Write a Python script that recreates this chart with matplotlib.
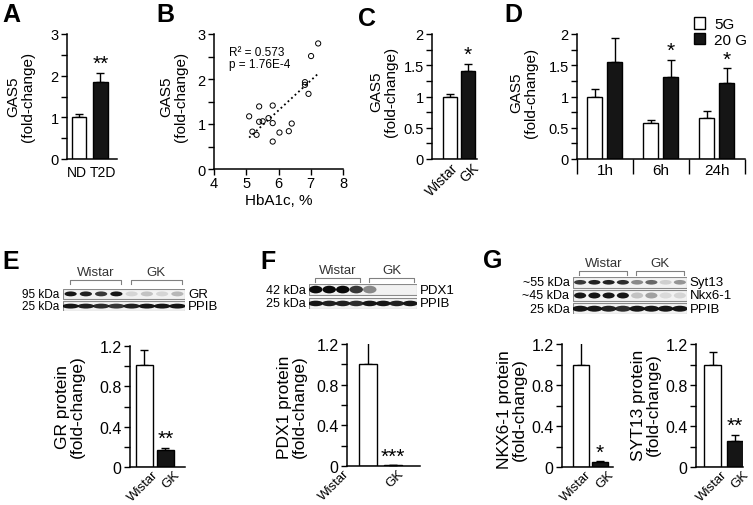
import numpy as np
import matplotlib
matplotlib.use("Agg")
import matplotlib.pyplot as plt
from matplotlib.patches import Ellipse, Rectangle, Patch
from matplotlib.ticker import MultipleLocator, FormatStrFormatter

plt.rcParams['font.family'] = ['Liberation Sans', 'DejaVu Sans']

############## Data ##################
# A - human islets
a_groups = ['ND', 'T2D']
a_mean = [1.02, 1.85]
a_err = [0.05, 0.22]

# B - GAS5 vs HbA1c
b_hba1c = [5.09, 5.19, 5.32, 5.40, 5.40, 5.51, 5.69, 5.82, 5.82, 5.82,
           6.03, 6.32, 6.41, 6.82, 6.82, 6.93, 7.01, 7.23]
b_gas5 = [1.17, 0.83, 0.76, 1.39, 1.05, 1.06, 1.13, 1.41, 1.02, 0.61,
          0.81, 0.84, 1.01, 1.93, 1.87, 1.67, 2.51, 2.79]

# C - rat islets
rat_groups = ['Wistar', 'GK']
c_mean = [1.0, 1.41]
c_err = [0.04, 0.11]

# D - glucose time course
d_times = ['1h', '6h', '24h']
d_5g = [1.0, 0.57, 0.66]
d_5g_err = [0.12, 0.05, 0.11]
d_20g = [1.55, 1.31, 1.22]
d_20g_err = [0.39, 0.28, 0.23]

# E-G - protein quantification
e_mean = [1.01, 0.17]
e_err = [0.15, 0.02]
f_mean = [1.0, 0.006]
f_err = [0.22, 0.0]
nkx_mean = [1.0, 0.05]
nkx_err = [0.30, 0.005]
syt_mean = [1.0, 0.25]
syt_err = [0.12, 0.06]

# western blot band intensities per lane (Wistar lanes 0-3, GK lanes 4-7)
gr_bands = [0.95, 0.9, 0.8, 0.95, 0.12, 0.2, 0.12, 0.25]
ppib_e = [0.95, 0.9, 0.85, 0.8, 0.9, 0.95, 0.95, 0.95]
pdx1_bands = [1.0, 1.0, 1.0, 0.8, 0.45, 0.0, 0.0, 0.0]
ppib_f = [0.95, 0.9, 0.9, 0.85, 0.95, 0.95, 0.9, 0.95]
syt13_bands = [0.8, 0.9, 0.9, 0.85, 0.45, 0.6, 0.15, 0.4]
nkx_bands = [0.95, 0.95, 0.95, 0.95, 0.2, 0.35, 0.1, 0.12]
ppib_g = [0.95, 0.95, 0.9, 0.85, 0.95, 0.95, 0.95, 0.95]
blot_groups = [('Wistar', 0, 3), ('GK', 4, 7)]

############## Helpers ##################
W, H = 753, 506
fig = plt.figure(figsize=(W / 100, H / 100), dpi=100)
BLACK = '#151515'


def add_ax(x0, y0, x1, y1):
    return fig.add_axes([x0 / W, 1 - y1 / H, (x1 - x0) / W, (y1 - y0) / H])


def style(ax, ymax, major, minor, fs, fmt='%g'):
    for s in ['top', 'right']:
        ax.spines[s].set_visible(False)
    for s in ['left', 'bottom']:
        ax.spines[s].set_linewidth(1.1)
    ax.set_ylim(0, ymax)
    ax.yaxis.set_major_locator(MultipleLocator(major))
    ax.yaxis.set_minor_locator(MultipleLocator(minor))
    ax.yaxis.set_major_formatter(FormatStrFormatter(fmt))
    ax.tick_params(axis='y', which='both', direction='out', length=4,
                   width=1, labelsize=fs, pad=2)
    ax.patch.set_alpha(0)


def bars(ax, x, means, errs, width, colors):
    ax.bar(x, means, width, color=colors, edgecolor='black', linewidth=1, zorder=2)
    ax.errorbar(x, means, yerr=[np.zeros(len(errs)), errs], fmt='none',
                ecolor='black', elinewidth=1, capsize=3, capthick=1, zorder=1)


def stars(ax, x, top, s, fs=15):
    ax.text(x, top, s, ha='center', va='bottom', fontsize=fs)


def rot_labels(ax, xs, labels, fs):
    ax.set_xticks([])
    for x, lab in zip(xs, labels):
        ax.text(x, -0.01, lab, transform=ax.get_xaxis_transform(), rotation=45,
                ha='right', va='top', rotation_mode='anchor', fontsize=fs,
                clip_on=False)


def ylab(x, y, text, fs):
    fig.text(x / W, 1 - y / H, text, rotation=90, ha='center', va='center',
             fontsize=fs, multialignment='center', linespacing=1.05)


def letter(x, y, s):
    fig.text(x / W, 1 - y / H, s, ha='left', va='top', fontsize=18, weight='bold')


def blot(box, rows, left, right, fs_left, fs_right, br_gap):
    x0, y0, x1, y1 = box
    ax = add_ax(x0, y0, x1, y1)
    n = len(rows[0][0])
    nr = len(rows)
    ax.set_xlim(-0.5, n - 0.5)
    ax.set_ylim(nr - 0.2, 0)
    ax.axis('off')
    unit = (y1 - y0) / (nr - 0.2)
    for r, (bands, bh, bw) in enumerate(rows):
        ax.add_patch(Rectangle((-0.5, r), n, 0.8, fc='#f2f2f2', ec='#8a8a8a', lw=0.8))
        for i, v in enumerate(bands):
            if v > 0:
                ax.add_patch(Ellipse((i, r + 0.4), bw, bh, fc='#0a0a0a', alpha=v, lw=0))
        ax.text(-0.75, r + 0.4, left[r], ha='right', va='center', fontsize=fs_left)
        ax.text(n - 0.3, r + 0.4, right[r], ha='left', va='center', fontsize=fs_right)
    yt = -br_gap / unit
    yl = yt + 4 / unit
    for name, i, j in blot_groups:
        ax.plot([i - 0.05, i - 0.05, j + 0.3, j + 0.3], [yl, yt, yt, yl],
                color='#808080', lw=0.8, clip_on=False)
        ax.text((i + j + 0.25) / 2, yt - 2 / unit, name, ha='center', va='bottom',
                fontsize=9.5, color='#333333')


############## A ##################
ax = add_ax(67, 35, 117, 160)
style(ax, 3, 1, 0.5, 10.5)
x = np.arange(2)
ax.set_xlim(-0.56, 1.77)
bars(ax, x, a_mean, a_err, 0.67, ['white', BLACK])
ax.set_xticks([-0.08, 1.1])
ax.set_xticklabels(a_groups, fontsize=10)
ax.tick_params(axis='x', length=0, pad=4)
stars(ax, 1, a_mean[1] + a_err[1], '**')
ylab(21, 97, 'GAS5\n(fold-change)', 11)
letter(2, 3, 'A')

############## B ##################
ax = add_ax(214, 35, 343, 170)
style(ax, 3, 1, 0.5, 10.5)
ax.set_xlim(4, 8)
ax.xaxis.set_major_locator(MultipleLocator(1))
ax.tick_params(axis='x', direction='out', length=4, width=1, labelsize=10.5, pad=1)
ax.scatter(b_hba1c, b_gas5, s=14, facecolors='none', edgecolors='black',
           linewidths=0.7, zorder=3, clip_on=False)
k, b0 = np.polyfit(b_hba1c, b_gas5, 1)
xf = np.array([min(b_hba1c), max(b_hba1c)])
ax.plot(xf, k * xf + b0, ':', color='black', lw=1.3)
ax.text(0.115, 0.91, 'R² = 0.573\np = 1.76E-4', transform=ax.transAxes,
        ha='left', va='top', fontsize=8.5, linespacing=1.0)
ax.set_xlabel('HbA1c, %', fontsize=11, labelpad=2)
ylab(174, 97, 'GAS5\n(fold-change)', 11)
letter(156, 3, 'B')

############## C ##################
ax = add_ax(432, 35, 477, 160)
style(ax, 2, 0.5, 0.25, 10.5)
ax.set_xlim(-1.03, 1.54)
bars(ax, x, c_mean, c_err, 0.8, ['white', BLACK])
rot_labels(ax, [0.05, 1.25], rat_groups, 10)
stars(ax, 1, c_mean[1] + c_err[1], '*')
ylab(384, 92, 'GAS5\n(fold-change)', 11)
letter(358, 7, 'C')

############## D ##################
ax = add_ax(577, 35, 745, 160)
style(ax, 2, 0.5, 0.25, 10.5)
ax.set_xlim(-0.5, 2.5)
xd = np.arange(3)
bars(ax, xd - 0.18, d_5g, d_5g_err, 0.27, 'white')
bars(ax, xd + 0.17, d_20g, d_20g_err, 0.27, BLACK)
ax.set_xticks([-0.5, 0.5, 1.5, 2.5])
ax.set_xticklabels([])
ax.set_xticks(xd, minor=True)
ax.set_xticklabels(d_times, minor=True, fontsize=11)
ax.tick_params(axis='x', which='major', direction='out', length=11, width=1)
ax.tick_params(axis='x', which='minor', length=0, pad=3)
for i in [1, 2]:
    stars(ax, xd[i] + 0.17, d_20g[i] + d_20g_err[i], '*')
ax.legend(handles=[Patch(fc='white', ec='black', lw=1), Patch(fc=BLACK, ec='black', lw=1)],
          labels=['5G', '20 G'], loc='upper left', bbox_to_anchor=(694 / W, 1 - 18 / H),
          bbox_transform=fig.transFigure, frameon=False, fontsize=11,
          handlelength=0.7, handleheight=0.8, handletextpad=0.6, labelspacing=0.1,
          borderpad=0, borderaxespad=0)
ylab(524, 93, 'GAS5\n(fold-change)', 11)
letter(504, 3, 'D')

############## E ##################
blot((63, 290, 185, 312), [(gr_bands, 0.4, 0.8), (ppib_e, 0.4, 1.1)],
     ['95 kDa', '25 kDa'], ['GR', 'PPIB'], 8.5, 9.5, 9)
ax = add_ax(130, 347, 185, 468)
style(ax, 1.2, 0.4, 0.2, 11.5)
ax.set_xlim(-0.69, 1.93)
bars(ax, x, e_mean, e_err, 0.81, ['white', BLACK])
rot_labels(ax, [0.38, 1.38], rat_groups, 9.5)
stars(ax, 1, e_mean[1] + e_err[1], '**')
ylab(70, 407, 'GR protein\n(fold-change)', 12.5)
letter(2, 250, 'E')

############## F ##################
blot((309, 285, 417, 310), [(pdx1_bands, 0.55, 1.0), (ppib_f, 0.4, 1.1)],
     ['42 kDa', '25 kDa'], ['PDX1', 'PPIB'], 9, 9.5, 6)
ax = add_ax(347, 345, 420, 467)
style(ax, 1.2, 0.4, 0.2, 11.5)
ax.set_xlim(-0.84, 2.08)
bars(ax, x, f_mean, f_err, 0.72, ['white', BLACK])
rot_labels(ax, [-1.0, 1.2], rat_groups, 9.5)
stars(ax, 1, f_mean[1] + f_err[1], '***')
ylab(292, 407, 'PDX1 protein\n(fold-change)', 12.5)
letter(260, 250, 'F')

############## G ##################
blot((573, 278, 687, 315),
     [(syt13_bands, 0.35, 0.85), (nkx_bands, 0.45, 0.85), (ppib_g, 0.45, 1.1)],
     ['~55 kDa', '~45 kDa', '25 kDa'], ['Syt13', 'Nkx6-1', 'PPIB'], 9, 9.5, 6)

ax = add_ax(562, 345, 613, 468)
style(ax, 1.2, 0.4, 0.2, 11.5)
ax.set_xlim(-1.0, 1.68)
bars(ax, x, nkx_mean, nkx_err, 0.8, ['white', BLACK])
rot_labels(ax, [0.2, 1.37], rat_groups, 9.5)
stars(ax, 1, nkx_mean[1] + nkx_err[1], '*')
ylab(512, 410, 'NKX6-1 protein\n(fold-change)', 12.5)

ax = add_ax(696, 345, 743, 468)
style(ax, 1.2, 0.4, 0.2, 11.5)
ax.set_xlim(-0.77, 1.36)
bars(ax, x, syt_mean, syt_err, 0.77, ['white', BLACK])
rot_labels(ax, [0.36, 1.36], rat_groups, 9.5)
stars(ax, 1, syt_mean[1] + syt_err[1], '**')
ylab(646, 405, 'SYT13 protein\n(fold-change)', 12.5)
letter(483, 249, 'G')

plt.savefig('out.png', dpi=100)
